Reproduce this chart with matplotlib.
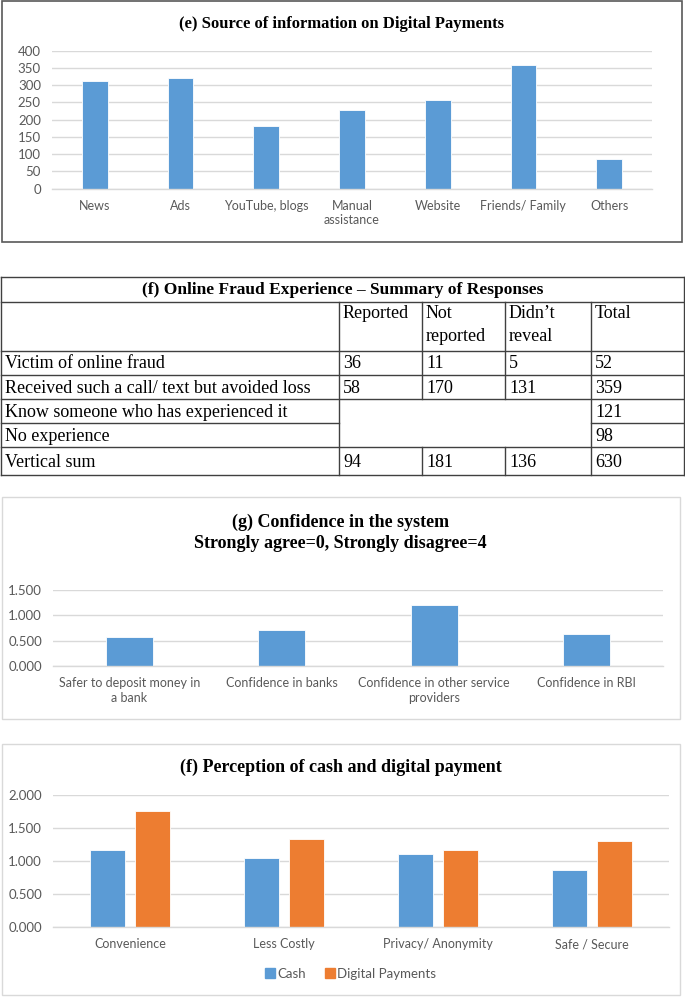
import matplotlib
matplotlib.use("Agg")
import matplotlib.pyplot as plt
from matplotlib.patches import Rectangle
from matplotlib.lines import Line2D

# (e) source of information
source_labels = ["News", "Ads", "YouTube, blogs", "Manual\nassistance",
                 "Website", "Friends/ Family", "Others"]
source_counts = [311, 322, 183, 228, 258, 358, 86]

# (f) fraud table
fraud_cols = ["Reported", "Not\nreported", "Didn\u2019t\nreveal", "Total"]
fraud_rows = ["Victim of online fraud",
              "Received such a call/ text but avoided loss",
              "Know someone who has experienced it",
              "No experience",
              "Vertical sum"]
fraud_reported = ["36", "58", "", "", "94"]
fraud_not_reported = ["11", "170", "", "", "181"]
fraud_not_revealed = ["5", "131", "", "", "136"]
fraud_total = ["52", "359", "121", "98", "630"]

# (g) confidence
conf_labels = ["Safer to deposit money in\na bank", "Confidence in banks",
               "Confidence in other service\nproviders", "Confidence in RBI"]
conf_scores = [0.58, 0.71, 1.20, 0.63]

# (f) perception
perc_labels = ["Convenience", "Less Costly", "Privacy/ Anonymity", "Safe / Secure"]
perc_cash = [1.17, 1.04, 1.11, 0.87]
perc_digital = [1.76, 1.34, 1.17, 1.30]

W, H = 685, 997
BLUE = "#5B9BD5"
ORANGE = "#ED7D31"
GRID = "#D9D9D9"
TICK = "#595959"
SERIF = "Liberation Serif"
SANS = "Lato"


def rect(x0, y0, x1, y1):
    """pixel box (top-left origin) -> figure fraction rect"""
    return [x0 / W, 1 - y1 / H, (x1 - x0) / W, (y1 - y0) / H]


def box(fig, x0, y0, x1, y1, color, lw):
    fig.add_artist(Rectangle((x0 / W, 1 - y1 / H), (x1 - x0) / W, (y1 - y0) / H,
                             transform=fig.transFigure, fill=False,
                             ec=color, lw=lw))


def style_bar_axes(ax, ylim, yticks, fmt):
    ax.set_ylim(*ylim)
    ax.set_yticks(yticks)
    ax.set_yticklabels([fmt.format(v) for v in yticks])
    for s in ["top", "right", "left"]:
        ax.spines[s].set_visible(False)
    ax.spines["bottom"].set_color(GRID)
    ax.spines["bottom"].set_linewidth(1.0)
    ax.yaxis.grid(True, color=GRID, lw=1.0)
    ax.set_axisbelow(True)
    ax.tick_params(length=0, colors=TICK, pad=8)
    ax.tick_params(axis="x", labelsize=9)
    ax.tick_params(axis="y", labelsize=9.5)
    for lab in ax.get_xticklabels() + ax.get_yticklabels():
        lab.set_fontfamily(SANS)
        lab.set_color(TICK)


def main():
    fig = plt.figure(figsize=(W / 100, H / 100), dpi=100)

    # ---- (e) Source of information ----
    box(fig, 1.5, 1.5, 682, 242, "#595959", 1.2)
    fig.text(0.5 * (1 + 682) / W, 1 - 24 / H,
             "(e) Source of information on Digital Payments",
             ha="center", va="center", fontfamily=SERIF,
             fontweight="bold", fontsize=12)
    ax1 = fig.add_axes(rect(52, 50.7, 652, 188.7))
    x = range(len(source_labels))
    ax1.bar(x, source_counts, width=0.3, color=BLUE, edgecolor="white", lw=0.6)
    ax1.set_xlim(-0.5, len(source_labels) - 0.5)
    ax1.set_xticks(list(x))
    ax1.set_xticklabels(source_labels, linespacing=1.25)
    style_bar_axes(ax1, (0, 400), list(range(0, 401, 50)), "{:d}")

    # ---- (f) Fraud table ----
    axt = fig.add_axes(rect(0, 270, W, 480))
    axt.set_xlim(0, W)
    axt.set_ylim(480, 270)
    axt.axis("off")
    lc = "#404040"
    lw = 1.0
    left, right = 1, 684
    col_x = [339, 422, 505, 591]
    top, title_b, head_b = 277, 302, 351
    row_h = 24
    row_b = [head_b + row_h * (i + 1) for i in range(len(fraud_rows))]
    row_b[-1] += 4
    # horizontal lines
    for yy in [top, title_b, head_b, row_b[0], row_b[1], row_b[3], row_b[4]]:
        axt.plot([left, right], [yy, yy], color=lc, lw=lw)
    # line between merged rows: only first and last columns
    axt.plot([left, col_x[0]], [row_b[2], row_b[2]], color=lc, lw=lw)
    axt.plot([col_x[3], right], [row_b[2], row_b[2]], color=lc, lw=lw)
    # vertical lines
    for xx in [left, right]:
        axt.plot([xx, xx], [top, row_b[-1]], color=lc, lw=lw)
    for xx in [col_x[0], col_x[3]]:
        axt.plot([xx, xx], [title_b, row_b[-1]], color=lc, lw=lw)
    for xx in [col_x[1], col_x[2]]:
        axt.plot([xx, xx], [title_b, row_b[1]], color=lc, lw=lw)
        axt.plot([xx, xx], [row_b[3], row_b[4]], color=lc, lw=lw)

    tfs = 13
    axt.text((left + right) / 2, (top + title_b) / 2 + 1,
             "(f) Online Fraud Experience \u2013 Summary of Responses",
             ha="center", va="center", fontfamily=SERIF,
             fontweight="bold", fontsize=12.5)
    for cx, name in zip(col_x, fraud_cols):
        axt.text(cx + 4, title_b + 3, name, ha="left", va="top",
                 fontfamily=SERIF, fontsize=tfs, linespacing=1.45)
    row_t = [head_b] + row_b[:-1]
    cols = [fraud_reported, fraud_not_reported, fraud_not_revealed, fraud_total]
    for i, name in enumerate(fraud_rows):
        yc = (row_t[i] + row_b[i]) / 2 + 1
        axt.text(left + 4, yc, name, ha="left", va="center",
                 fontfamily=SERIF, fontsize=tfs)
        for cx, col in zip(col_x, cols):
            if col[i]:
                axt.text(cx + 4, yc, col[i], ha="left", va="center",
                         fontfamily=SERIF, fontsize=tfs)

    # ---- (g) Confidence ----
    box(fig, 1.5, 497, 680, 719, GRID, 1.0)
    fig.text(0.5 * (1 + 680) / W, 1 - 522 / H,
             "(g) Confidence in the system", ha="center", va="center",
             fontfamily=SERIF, fontweight="bold", fontsize=13)
    fig.text(0.5 * (1 + 680) / W, 1 - 543 / H,
             "Strongly agree=0, Strongly disagree=4", ha="center", va="center",
             fontfamily=SERIF, fontweight="bold", fontsize=13)
    ax2 = fig.add_axes(rect(53, 590, 663, 666))
    x = range(len(conf_labels))
    ax2.bar(x, conf_scores, width=0.31, color=BLUE, edgecolor="white", lw=0.6)
    ax2.set_xlim(-0.5, len(conf_labels) - 0.5)
    ax2.set_xticks(list(x))
    ax2.set_xticklabels(conf_labels, linespacing=1.25)
    style_bar_axes(ax2, (0, 1.5), [0, 0.5, 1.0, 1.5], "{:.3f}")

    # ---- (f) Perception ----
    box(fig, 1.5, 744, 680, 995, GRID, 1.0)
    fig.text(0.5 * (1 + 680) / W, 1 - 767 / H,
             "(f) Perception of cash and digital payment", ha="center",
             va="center", fontfamily=SERIF, fontweight="bold", fontsize=13)
    ax3 = fig.add_axes(rect(53, 795, 669, 927))
    x = list(range(len(perc_labels)))
    bw = 0.227
    off = 0.143
    ax3.bar([i - off for i in x], perc_cash, width=bw, color=BLUE,
            edgecolor="white", lw=0.6, label="Cash")
    ax3.bar([i + off for i in x], perc_digital, width=bw, color=ORANGE,
            edgecolor="white", lw=0.6, label="Digital Payments")
    ax3.set_xlim(-0.5, len(perc_labels) - 0.5)
    ax3.set_xticks(x)
    ax3.set_xticklabels(perc_labels)
    style_bar_axes(ax3, (0, 2.0), [0, 0.5, 1.0, 1.5, 2.0], "{:.3f}")

    handles = [Line2D([], [], marker="s", ls="", color=BLUE, markersize=7),
               Line2D([], [], marker="s", ls="", color=ORANGE, markersize=7)]
    leg = fig.legend(handles, ["Cash", "Digital Payments"], loc="center",
                     bbox_to_anchor=(350 / W, 1 - 974 / H), ncol=2,
                     frameon=False, handletextpad=0.05, columnspacing=1.3,
                     handlelength=1.0, prop={"family": SANS, "size": 9.5})
    for t in leg.get_texts():
        t.set_color(TICK)

    fig.savefig("out.png", dpi=100, facecolor="white")


if __name__ == "__main__":
    main()
